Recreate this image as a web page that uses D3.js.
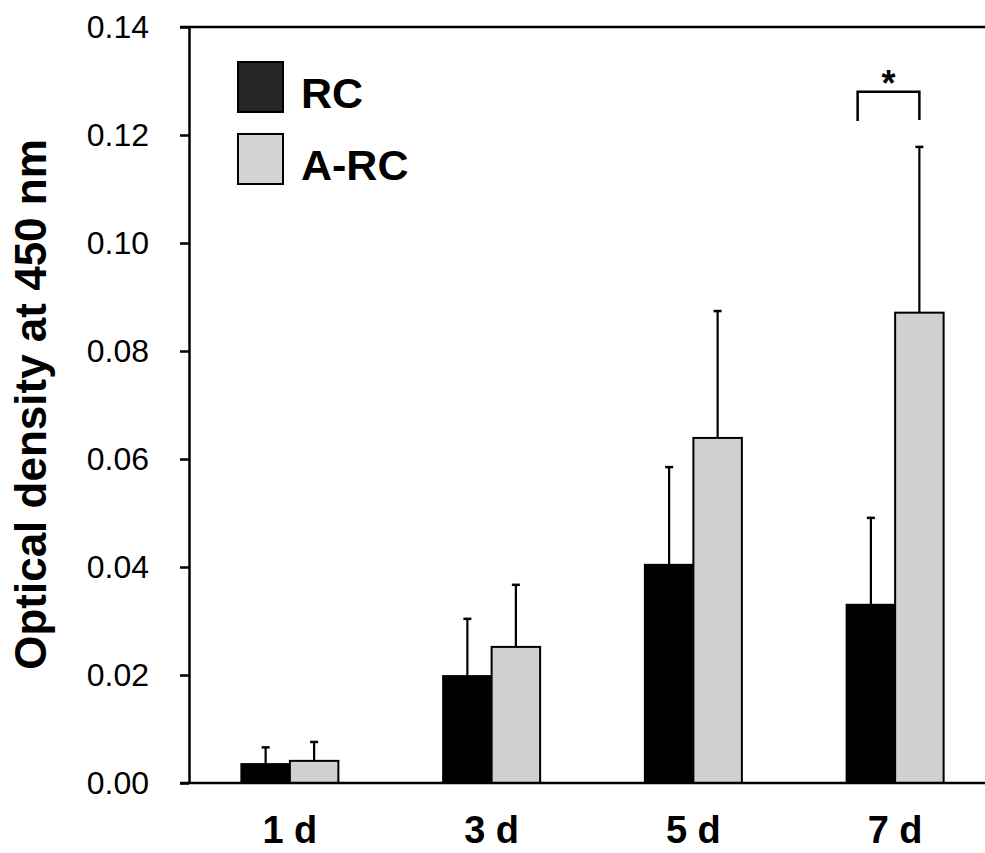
<!DOCTYPE html>
<html>
<head>
<meta charset="utf-8">
<script src="https://cdn.jsdelivr.net/npm/d3@7"></script>
<style>
  html, body { margin: 0; padding: 0; background: #fff; }
  svg { display: block; font-family: Arial, "Liberation Sans", sans-serif; }
</style>
</head>
<body>
<svg id="chart" width="985" height="853"></svg>
<script>
// ---- data ----
const categories = ["1 d", "3 d", "5 d", "7 d"];
const seriesNames = ["RC", "A-RC"];
const rcValues = [0.0035, 0.0198, 0.0404, 0.0330];
const rcErrors = [0.0031, 0.0106, 0.0181, 0.0161];
const arcValues = [0.0041, 0.0252, 0.0639, 0.0871];
const arcErrors = [0.0035, 0.0115, 0.0235, 0.0307];
const yTicks = [0.00, 0.02, 0.04, 0.06, 0.08, 0.10, 0.12, 0.14];
const yTitle = "Optical density at 450 nm";
const sigCategory = "7 d";
const sigLabel = "*";
const sigLevels = [0.1226, 0.128]; // bracket leg bottom, bracket top

const colors = { "RC": "#000000", "A-RC": "#d0d0d0" };
const legendColors = { "RC": "#262626", "A-RC": "#d3d3d3" };

// ---- layout ----
const svg = d3.select("#chart");
const axisX = 189, plotTop = 27, plotBottom = 783, rightEdge = 996;

const y = d3.scaleLinear().domain([0, 0.14]).range([plotBottom, plotTop]);
const x0 = d3.scaleBand().domain(categories).range([axisX, rightEdge]).paddingInner(0).paddingOuter(0);
const x1 = d3.scaleBand().domain(seriesNames).range([0, 97]).padding(0);
const groupOffset = x0.bandwidth() / 2 - 48.5;

const rows = categories.map((c, i) => ({
  cat: c,
  bars: [
    { s: "RC", v: rcValues[i], e: rcErrors[i] },
    { s: "A-RC", v: arcValues[i], e: arcErrors[i] }
  ]
}));

// frame line (top)
svg.append("line").attr("x1", axisX - 9).attr("x2", 985)
  .attr("y1", y(0.14)).attr("y2", y(0.14))
  .attr("stroke", "#000").attr("stroke-width", 2.5);

// bars
const g = svg.append("g");
const groups = g.selectAll("g.grp").data(rows).join("g")
  .attr("transform", d => `translate(${x0(d.cat) + groupOffset},0)`);

// error bars (one-sided, upward) drawn first
groups.selectAll("g.err").data(d => d.bars).join("g").each(function(d) {
  const cx = x1(d.s) + x1.bandwidth() / 2;
  const sel = d3.select(this);
  sel.append("line").attr("x1", cx).attr("x2", cx)
    .attr("y1", y(d.v)).attr("y2", y(d.v + d.e))
    .attr("stroke", "#000").attr("stroke-width", 2.2);
  sel.append("line").attr("x1", cx - 4).attr("x2", cx + 4)
    .attr("y1", y(d.v + d.e)).attr("y2", y(d.v + d.e))
    .attr("stroke", "#000").attr("stroke-width", 2.5);
});

groups.selectAll("rect").data(d => d.bars).join("rect")
  .attr("x", d => x1(d.s))
  .attr("y", d => y(d.v))
  .attr("width", x1.bandwidth())
  .attr("height", d => y(0) - y(d.v))
  .attr("fill", d => colors[d.s])
  .attr("stroke", "#000")
  .attr("stroke-width", 2);

// y axis
const yAxis = d3.axisLeft(y).tickValues(yTicks).tickFormat(d3.format(".2f"))
  .tickSize(9).tickSizeOuter(0).tickPadding(31);
const ya = svg.append("g").attr("transform", `translate(${axisX},0)`).call(yAxis);
ya.select(".domain").attr("stroke-width", 2.5);
ya.selectAll(".tick line").attr("stroke-width", 2.5);
ya.selectAll(".tick text").attr("font-size", 32).attr("font-family", "Arial, 'Liberation Sans', sans-serif").attr("fill", "#000");

// x axis
const xAxis = d3.axisBottom(x0).tickSize(0).tickPadding(33);
const xa = svg.append("g").attr("transform", `translate(0,${plotBottom})`).call(xAxis);
xa.select(".domain").remove();
xa.selectAll(".tick text").attr("font-size", 38).attr("font-weight", "bold")
  .attr("font-family", "Arial, 'Liberation Sans', sans-serif").attr("fill", "#000");

svg.append("line").attr("x1", axisX - 9).attr("x2", 985)
  .attr("y1", y(0)).attr("y2", y(0))
  .attr("stroke", "#000").attr("stroke-width", 2.5);

// y title
svg.append("text")
  .attr("transform", `translate(46,${(132 + 677) / 2}) rotate(-90)`)
  .attr("text-anchor", "middle")
  .attr("font-size", 44).attr("font-weight", "bold").attr("fill", "#000")
  .text(yTitle);

// legend
const legend = svg.append("g").attr("transform", "translate(238,62)");
seriesNames.forEach((s, i) => {
  const row = legend.append("g").attr("transform", `translate(0,${i * 72})`);
  row.append("rect").attr("x", 0).attr("y", 0).attr("width", 45).attr("height", 50)
    .attr("fill", legendColors[s]).attr("stroke", "#000").attr("stroke-width", 2);
  row.append("text").attr("x", 63).attr("y", 46)
    .attr("font-size", 43).attr("font-weight", "bold").attr("fill", "#000")
    .text(s);
});

// significance bracket
const sigX = x0(sigCategory) + groupOffset;
const bxL = sigX + 11;
const bxR = sigX + x1("A-RC") + x1.bandwidth() / 2;
svg.append("path")
  .attr("d", `M${bxL},${y(sigLevels[0])} V${y(sigLevels[1])} H${bxR} V${y(sigLevels[0]) - 1}`)
  .attr("fill", "none").attr("stroke", "#000").attr("stroke-width", 2.5);
svg.append("text")
  .attr("x", (bxL + bxR) / 2).attr("y", y(sigLevels[1]) + 4)
  .attr("text-anchor", "middle")
  .attr("font-size", 36).attr("font-weight", "bold").attr("fill", "#000")
  .text(sigLabel);
</script>
</body>
</html>
